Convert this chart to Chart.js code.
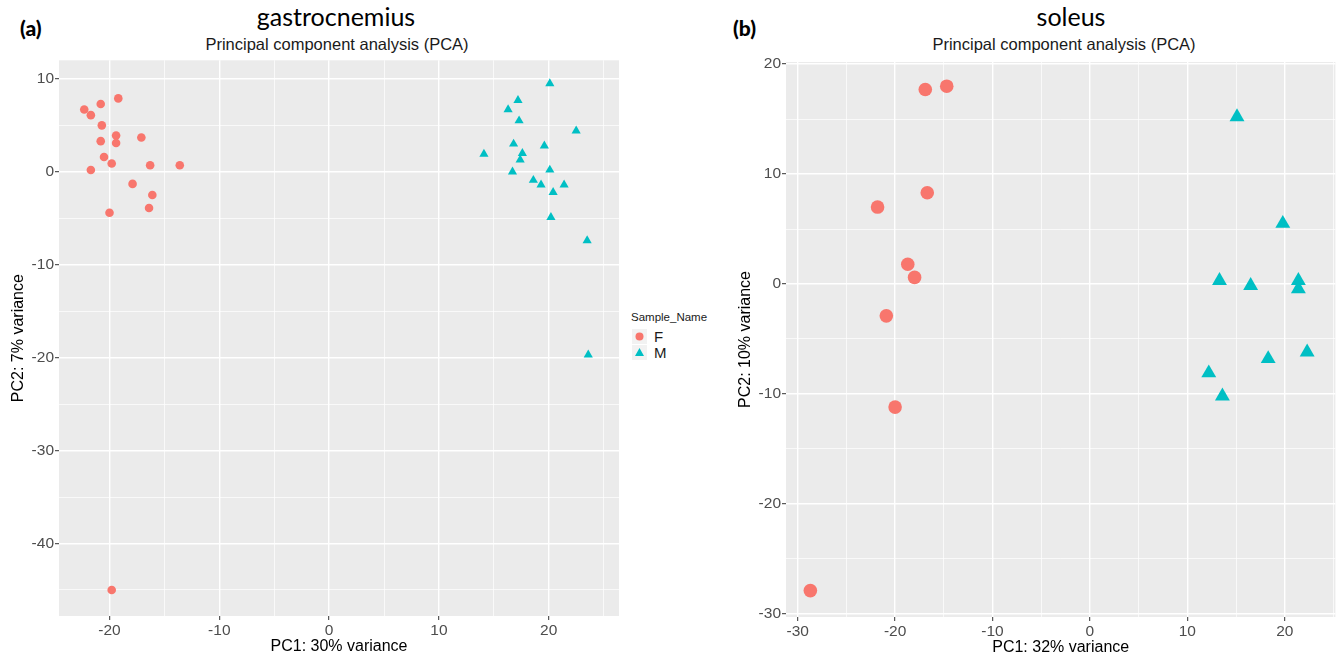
<!DOCTYPE html>
<html>
<head>
<meta charset="utf-8">
<script src="https://cdn.jsdelivr.net/npm/chart.js@4.4.1/dist/chart.umd.min.js"></script>
<style>
    body { margin: 0; background: #fff; width: 1344px; height: 657px; overflow: hidden; position: relative;
           font-family: 'Liberation Sans', Arial, sans-serif; }
    .abs { position: absolute; white-space: nowrap; }
    .tag { font-family: Lato, sans-serif; font-weight: 900; font-size: 21px; line-height: 21px; color: #000; }
    .big { font-family: Lato, sans-serif; font-size: 25px; line-height: 25px; color: #000; transform: translateX(-50%); }
    .sub { font-size: 16.5px; line-height: 17px; color: #1a1a1a; transform: translateX(-50%); }
    .legend-title { font-size: 11.5px; color: #1a1a1a; }
    .key { position: absolute; width: 15px; height: 15px; background: #F2F2F2; }
    .key-label { font-size: 15px; color: #1a1a1a; }
</style>
</head>
<body>
<div class="abs tag" style="left:20px; top:17px;">(a)</div>
<div class="abs big" style="left:336px; top:4px;">gastrocnemius</div>
<div class="abs sub" style="left:337px; top:36px;">Principal component analysis (PCA)</div>

<div class="abs tag" style="left:733px; top:17px;">(b)</div>
<div class="abs big" style="left:1071px; top:4px;">soleus</div>
<div class="abs sub" style="left:1064px; top:36px;">Principal component analysis (PCA)</div>

<div class="abs" style="left:0; top:50px; width:625px; height:607px;"><canvas id="gastroChart"></canvas></div>
<div class="abs" style="left:735px; top:50px; width:609px; height:607px;"><canvas id="soleusChart"></canvas></div>

<!-- legend between the two panels -->
<div class="abs legend-title" style="left:631px; top:311px;">Sample_Name</div>
<div class="key" style="left:632px; top:329px;">
    <svg width="15" height="15"><circle cx="7.5" cy="7.5" r="4" fill="#F8766D"/></svg>
</div>
<div class="abs key-label" style="left:654px; top:328px;">F</div>
<div class="key" style="left:632px; top:345px;">
    <svg width="15" height="15"><polygon points="7.5,3 12,11 3,11" fill="#00BFC4"/></svg>
</div>
<div class="abs key-label" style="left:654px; top:344px;">M</div>

<script>
// gastrocnemius, female samples
const gastroFemaleX = [-19.2, -20.8, -22.3, -21.7, -20.7, -19.4, -17.1, -20.8, -19.4, -20.5, -19.8, -16.3, -13.6, -21.7, -17.9, -16.1, -16.4, -20.0, -19.8];
const gastroFemaleY = [7.9, 7.3, 6.7, 6.1, 5.0, 3.9, 3.7, 3.3, 3.1, 1.6, 0.9, 0.7, 0.7, 0.2, -1.3, -2.5, -3.9, -4.4, -45.0];

// gastrocnemius, male samples
const gastroMaleX = [20.1, 17.2, 16.3, 17.3, 22.5, 16.8, 19.6, 14.1, 17.6, 17.4, 20.1, 16.7, 18.6, 19.3, 21.4, 20.4, 20.2, 23.5, 23.6];
const gastroMaleY = [9.5, 7.7, 6.7, 5.5, 4.4, 3.0, 2.8, 1.9, 2.0, 1.3, 0.2, 0.0, -0.9, -1.4, -1.4, -2.2, -4.9, -7.4, -19.7];

// soleus, female samples
const soleusFemaleX = [-16.9, -14.7, -16.7, -21.8, -18.7, -18.0, -20.9, -20.0, -28.7];
const soleusFemaleY = [17.7, 18.0, 8.3, 7.0, 1.8, 0.6, -2.9, -11.2, -27.9];

// soleus, male samples
const soleusMaleX = [15.1, 19.8, 13.3, 16.5, 21.4, 21.4, 18.3, 22.3, 12.2, 13.6];
const soleusMaleY = [15.2, 5.5, 0.3, -0.15, 0.3, -0.45, -6.8, -6.2, -8.1, -10.2];

const groupNames = ['F', 'M'];
const groupColors = ['#F8766D', '#00BFC4'];

Chart.defaults.font.family = "'Liberation Sans', Arial, sans-serif";
Chart.defaults.animation = false;

// zip two arrays into {x, y} points
function toPoints(xs, ys) {
    return xs.map((x, i) => ({ x: x, y: ys[i] }));
}

// grey panel behind the grid, like ggplot's theme_grey
const panelBackground = {
    id: 'panelBackground',
    beforeDraw(chart) {
        const { ctx, chartArea: a } = chart;
        ctx.save();
        ctx.fillStyle = '#EBEBEB';
        ctx.fillRect(a.left, a.top, a.width, a.height);
        ctx.restore();
    }
};

function isMajor(ctx) {
    return ctx.tick && ctx.tick.value % 10 === 0;
}

function axis(range, title, size, titlePad) {
    return {
        type: 'linear',
        min: range[0],
        max: range[1],
        afterFit: size,
        border: { display: false },
        grid: {
            color: '#FFFFFF',
            lineWidth: c => isMajor(c) ? 1.4 : 0.7,
            drawTicks: true,
            tickLength: 4,
            tickColor: c => isMajor(c) ? '#333333' : 'rgba(0,0,0,0)',
            tickWidth: 1
        },
        ticks: {
            stepSize: 5,
            includeBounds: false,
            autoSkip: false,
            maxRotation: 0,
            padding: 1,
            color: '#4D4D4D',
            font: { size: 15.5 },
            callback: v => v % 10 === 0 ? String(v) : ''
        },
        title: {
            display: true,
            text: title,
            color: '#000000',
            font: { size: 16 },
            padding: titlePad
        }
    };
}

function makeChart(id, female, male, radii, xRange, yRange, xTitle, yTitle, box) {
    new Chart(document.getElementById(id), {
        type: 'scatter',
        data: {
            datasets: [
                {
                    label: groupNames[0],
                    data: female,
                    pointStyle: 'circle',
                    pointRadius: radii[0],
                    backgroundColor: groupColors[0],
                    borderColor: groupColors[0],
                    borderWidth: 0
                },
                {
                    label: groupNames[1],
                    data: male,
                    pointStyle: 'triangle',
                    pointRadius: radii[1],
                    backgroundColor: groupColors[1],
                    borderColor: groupColors[1],
                    borderWidth: 0
                }
            ]
        },
        options: {
            responsive: true,
            maintainAspectRatio: false,
            layout: { padding: { top: box.top, right: box.right, left: 0, bottom: 0 } },
            plugins: {
                legend: { display: false },
                tooltip: { enabled: false }
            },
            scales: {
                x: axis(xRange, xTitle, s => { s.height = box.xHeight; }, { top: 0, bottom: box.xTitlePad }),
                y: axis(yRange, yTitle, s => { s.width = box.yWidth; }, { top: box.yTitlePad, bottom: 0 })
            }
        },
        plugins: [panelBackground]
    });
}

makeChart('gastroChart',
    toPoints(gastroFemaleX, gastroFemaleY),
    toPoints(gastroMaleX, gastroMaleY),
    [4.3, 5.3],
    [-24.6, 26.4], [-47.8, 12.0],
    'PC1: 30% variance', 'PC2: 7% variance',
    { top: 10, right: 6, xHeight: 41, yWidth: 59, xTitlePad: 1, yTitlePad: 9 });

makeChart('soleusChart',
    toPoints(soleusFemaleX, soleusFemaleY),
    toPoints(soleusMaleX, soleusMaleY),
    [6.8, 8.6],
    [-31.2, 25.2], [-30.3, 20.2],
    'PC1: 32% variance', 'PC2: 10% variance',
    { top: 12, right: 0, xHeight: 40, yWidth: 51, xTitlePad: 0, yTitlePad: 1 });
</script>
</body>
</html>
